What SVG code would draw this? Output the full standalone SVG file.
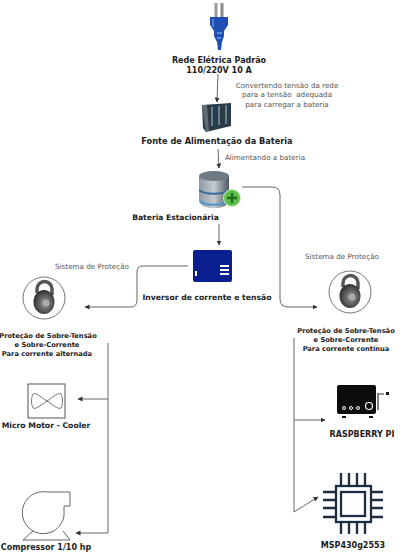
<svg xmlns="http://www.w3.org/2000/svg" width="405" height="552" viewBox="0 0 405 552">
<style>
text{font-family:"DejaVu Sans","Liberation Sans",sans-serif;text-anchor:middle}
.b{font-weight:bold;font-size:8px;fill:#1c1c1c}
.s{font-weight:bold;font-size:6.700px;fill:#1c1c1c}
.n{font-size:7.200px;fill:#555}
.c{fill:none;stroke:#666;stroke-width:1}
.p{fill:none;stroke:#1d2c42;stroke-width:2.300}
</style>
<defs>
<marker id="a" markerWidth="6" markerHeight="6" refX="4.500" refY="2.500" orient="auto" markerUnits="userSpaceOnUse"><path d="M0,0L5,2.500L0,5z" fill="#333"/></marker>
<linearGradient id="g" x1="0" x2="1"><stop offset="0" stop-color="#8d99a3"/><stop offset=".5" stop-color="#c5ccd2"/><stop offset="1" stop-color="#4f5860"/></linearGradient>
<radialGradient id="l" cx=".55" cy=".55" r=".6"><stop offset="0" stop-color="#999"/><stop offset=".6" stop-color="#555"/><stop offset="1" stop-color="#222"/></radialGradient>
<g id="lock"><circle r="21" fill="#fff" stroke="#555" stroke-width=".8"/><path d="M-7,-5V-9A7.500,7.500 0 0 1 8,-9V-3" fill="none" stroke="#555" stroke-width="3.500"/><ellipse cx="0" cy="4" rx="10.500" ry="12" fill="url(#l)"/><circle cx="2" cy="5" r="3.500" fill="#aaa"/></g>
</defs>
<g id="connectors">
<path class="c" d="M218,74L217,102" marker-end="url(#a)"/>
<path class="c" d="M218,149L219,168" marker-end="url(#a)"/>
<path class="c" d="M219,224V245" marker-end="url(#a)"/>
<path class="c" d="M242,187H272Q280,187 280,195V299Q280,307 288,307H317" marker-end="url(#a)"/>
<path class="c" d="M188,266H143Q137,266 137,272V300Q137,307 131,307H85" marker-end="url(#a)"/>
<path class="c" d="M108,343V533H76" marker-end="url(#a)"/>
<path class="c" d="M108,399H78" marker-end="url(#a)"/>
<path class="c" d="M294,338V512L318,497" marker-end="url(#a)"/>
<path class="c" d="M294,420H325" marker-end="url(#a)"/>
</g>
<g id="plug">
<rect x="214.500" y="3" width="3" height="14" fill="#9a9a9a"/><rect x="220.500" y="3" width="3" height="14" fill="#8a8a8a"/>
<path d="M210,17H228V25L224,31V36L222,42L221,50H218L217,42L214,36V31L210,25Z" fill="#1f4fb5"/>
<path d="M213,19V27M217,33H222M217,38H221" stroke="#6f9ae8" stroke-width="1.300" fill="none"/>
<text class="b" x="219" y="63">Rede Elétrica Padrão</text>
<text class="b" x="219" y="73">110/220V 10 A</text>
</g>
<text class="n" x="287" y="88">Convertendo tensão da rede</text>
<text class="n" x="287" y="97" xml:space="preserve">para a tensão  adequada</text>
<text class="n" x="287" y="107">para carregar a bateria</text>
<g id="power-supply">
<path d="M202,105L231,103V126L206,132L203,128Z" fill="#2c3a46"/>
<path d="M202,105L206,132L209,131L207,105Z" fill="#5d6d78"/>
<path d="M212,107V126M219,106V125M226,105V124" stroke="#5f8296" stroke-width="2"/>
<text class="b" font-size="8.200" style="font-size:8.200px" x="217" y="144">Fonte de Alimentação da Bateria</text>
</g>
<text class="n" x="265" y="160">Alimentando a bateria</text>
<g id="battery">
<path d="M199,176V200C199,211 229,211 229,200V176Z" fill="url(#g)"/>
<ellipse cx="214" cy="176" rx="15" ry="5" fill="#6e7a84"/>
<path d="M199,190C205,195 223,195 229,190" stroke="#3a6d9c" stroke-width="2" fill="none"/>
<path d="M200,201C206,206 222,206 228,201" stroke="#4f93cf" stroke-width="2" fill="none"/>
<circle cx="232" cy="198" r="8.500" fill="#5fbf4a" stroke="#d5f0c5"/>
<path d="M227,198H237M232,193V203" stroke="#1f6f1f" stroke-width="2.500"/>
<text class="b" style="font-size:7.600px" x="175.500" y="220">Bateria Estacionária</text>
</g>
<g id="inverter">
<rect x="193" y="250" width="39" height="32" rx="2" fill="#0a1f8f"/>
<path d="M220,266H229M220,270H229M220,274H229" stroke="#fff" stroke-width="2"/>
<rect x="195" y="271" width="2" height="5" fill="#fff"/>
<text class="b" style="font-size:7.700px" x="207" y="300">Inversor de corrente e tensão</text>
</g>
<g id="protection-ac">
<text class="n" x="92" y="269">Sistema de Proteção</text>
<use href="#lock" x="44" y="298"/>
<text class="s" x="48" y="338">Proteção de Sobre-Tensão</text>
<text class="s" x="47" y="347">e Sobre-Corrente</text>
<text class="s" x="47" y="356">Para corrente alternada</text>
</g>
<g id="protection-dc">
<text class="n" x="342" y="259">Sistema de Proteção</text>
<use href="#lock" x="350" y="292"/>
<text class="s" x="346" y="333">Proteção de Sobre-Tensão</text>
<text class="s" x="346" y="342">e Sobre-Corrente</text>
<text class="s" x="346" y="351">Para corrente contínua</text>
</g>
<g id="cooler">
<rect x="28" y="384" width="37" height="34" fill="#fff" stroke="#555"/>
<path d="M33,394C36,392 42,398 47,401C52,398 58,392 61,394C63,398 63,404 61,408C58,410 52,404 47,401C42,404 36,410 33,408C31,404 31,398 33,394Z" fill="none" stroke="#555" stroke-width=".8"/>
<text class="b" style="font-size:7.700px" x="46" y="428">Micro Motor - Cooler</text>
</g>
<g id="compressor">
<path d="M70,492H47A21,21 0 1 0 64,516V506H70Z" fill="#fff" stroke="#555" stroke-width=".9"/>
<path d="M23,540L33,531M63,531L70,540H23" fill="none" stroke="#555" stroke-width=".9"/>
<text class="b" x="46" y="550">Compressor 1/10 hp</text>
</g>
<g id="raspberry">
<rect x="337" y="385" width="39" height="29" rx="2" fill="#0c0c0c"/>
<circle cx="344" cy="408" r="1.500" fill="none" stroke="#fff"/><circle cx="351" cy="408" r="1.500" fill="none" stroke="#fff"/><circle cx="358" cy="408" r="1.500" fill="none" stroke="#fff"/><circle cx="369" cy="406" r="3.500" fill="none" stroke="#fff" stroke-width="1.200"/>
<path d="M378,393V410" stroke="#555" stroke-width="1.500"/><path d="M379,394H384" stroke="#333" stroke-width="1"/><rect x="386" y="392" width="3" height="3" fill="#111"/>
<rect x="342" y="416" width="4" height="2" fill="#111"/><rect x="369" y="416" width="4" height="2" fill="#111"/>
<text class="b" x="362" y="437">RASPBERRY PI</text>
</g>
<g id="msp">
<rect x="336" y="486" width="35" height="36" fill="none" stroke="#1d2c42" stroke-width="2.300"/>
<rect x="341" y="492" width="24" height="24" fill="none" stroke="#1d2c42" stroke-width="2.300"/>
<path class="p" d="M341,473V485M349,473V485M357,473V485M365,473V485M341,523V534M349,523V534M357,523V534M365,523V534M323,492H335M323,500H335M323,508H335M323,517H335M372,492H383M372,500H383M372,508H383M372,517H383"/>
<text class="b" x="353" y="548">MSP430g2553</text>
</g>
</svg>
